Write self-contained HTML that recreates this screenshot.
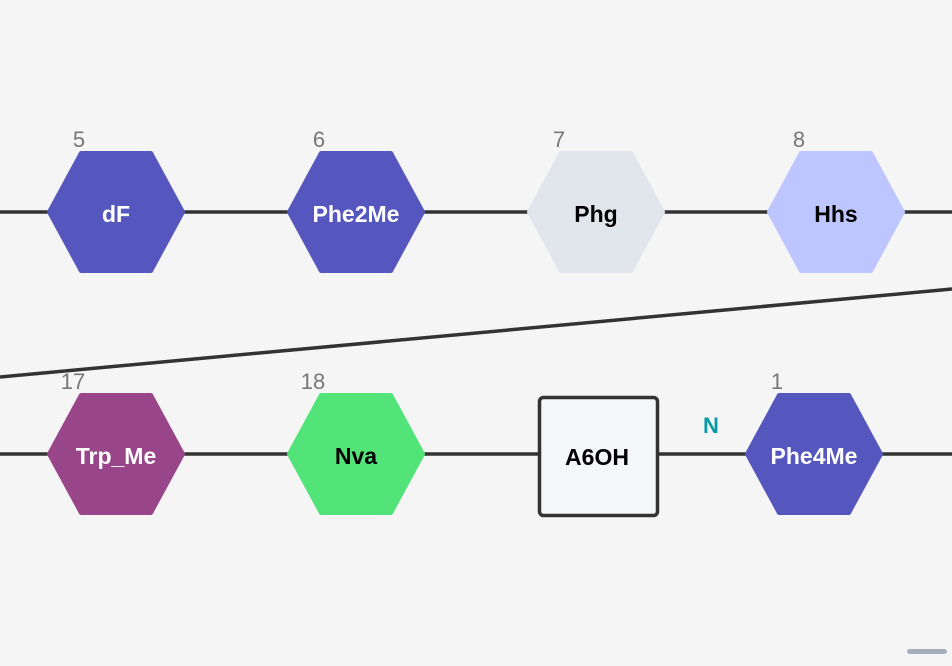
<!DOCTYPE html>
<html><head><style>
html,body{margin:0;padding:0;background:#f5f5f5;width:952px;height:666px;overflow:hidden}
svg{display:block;font-family:"Liberation Sans",sans-serif}
</style></head><body>
<svg width="952" height="666" viewBox="0 0 952 666" xmlns="http://www.w3.org/2000/svg">
<rect width="952" height="666" fill="#f5f5f5"/>
<g stroke="#333" stroke-width="3.5">
<line x1="0" y1="212" x2="952" y2="212"/>
<line x1="0" y1="454" x2="952" y2="454"/>
<line x1="0" y1="377" x2="952" y2="289"/>
</g>
<defs>
<path id="hx" d="M-67,0 L-35,-59 L35,-59 L67,0 L35,59 L-35,59 Z"/>
</defs>
<g stroke-linejoin="round" stroke-width="4">
<use href="#hx" x="116" y="212" fill="#5557be" stroke="#5557be"/>
<use href="#hx" x="356" y="212" fill="#5557be" stroke="#5557be"/>
<use href="#hx" x="596" y="212" fill="#e1e6ed" stroke="#e1e6ed"/>
<use href="#hx" x="836" y="212" fill="#bec6ff" stroke="#bec6ff"/>
<use href="#hx" x="116" y="454" fill="#984689" stroke="#984689"/>
<use href="#hx" x="356" y="454" fill="#52e478" stroke="#52e478"/>
<use href="#hx" x="814" y="454" fill="#5557be" stroke="#5557be"/>
</g>
<rect x="539.5" y="397.5" width="118" height="118" rx="4" fill="#f5f6f9" stroke="#333" stroke-width="3.5"/>
<g font-size="23" font-weight="bold" text-anchor="middle">
<text x="116" y="222" fill="#fff">dF</text>
<text x="356" y="222" fill="#fff">Phe2Me</text>
<text x="596" y="222" fill="#000">Phg</text>
<text x="836" y="222" fill="#000">Hhs</text>
<text x="116" y="464" fill="#fff">Trp_Me</text>
<text x="356" y="464" fill="#000">Nva</text>
<text x="597" y="465" fill="#000">A6OH</text>
<text x="814" y="464" fill="#fff">Phe4Me</text>
<text x="711" y="433" fill="#0a9aa6" font-size="22">N</text>
</g>
<g font-size="22" fill="#777" text-anchor="middle">
<text x="79" y="147">5</text>
<text x="319" y="147">6</text>
<text x="559" y="147">7</text>
<text x="799" y="147">8</text>
<text x="73" y="389">17</text>
<text x="313" y="389">18</text>
<text x="777" y="389">1</text>
</g>
<rect x="907" y="649" width="40" height="5" rx="2.5" fill="#a5afbb"/>
</svg>
</body></html>
